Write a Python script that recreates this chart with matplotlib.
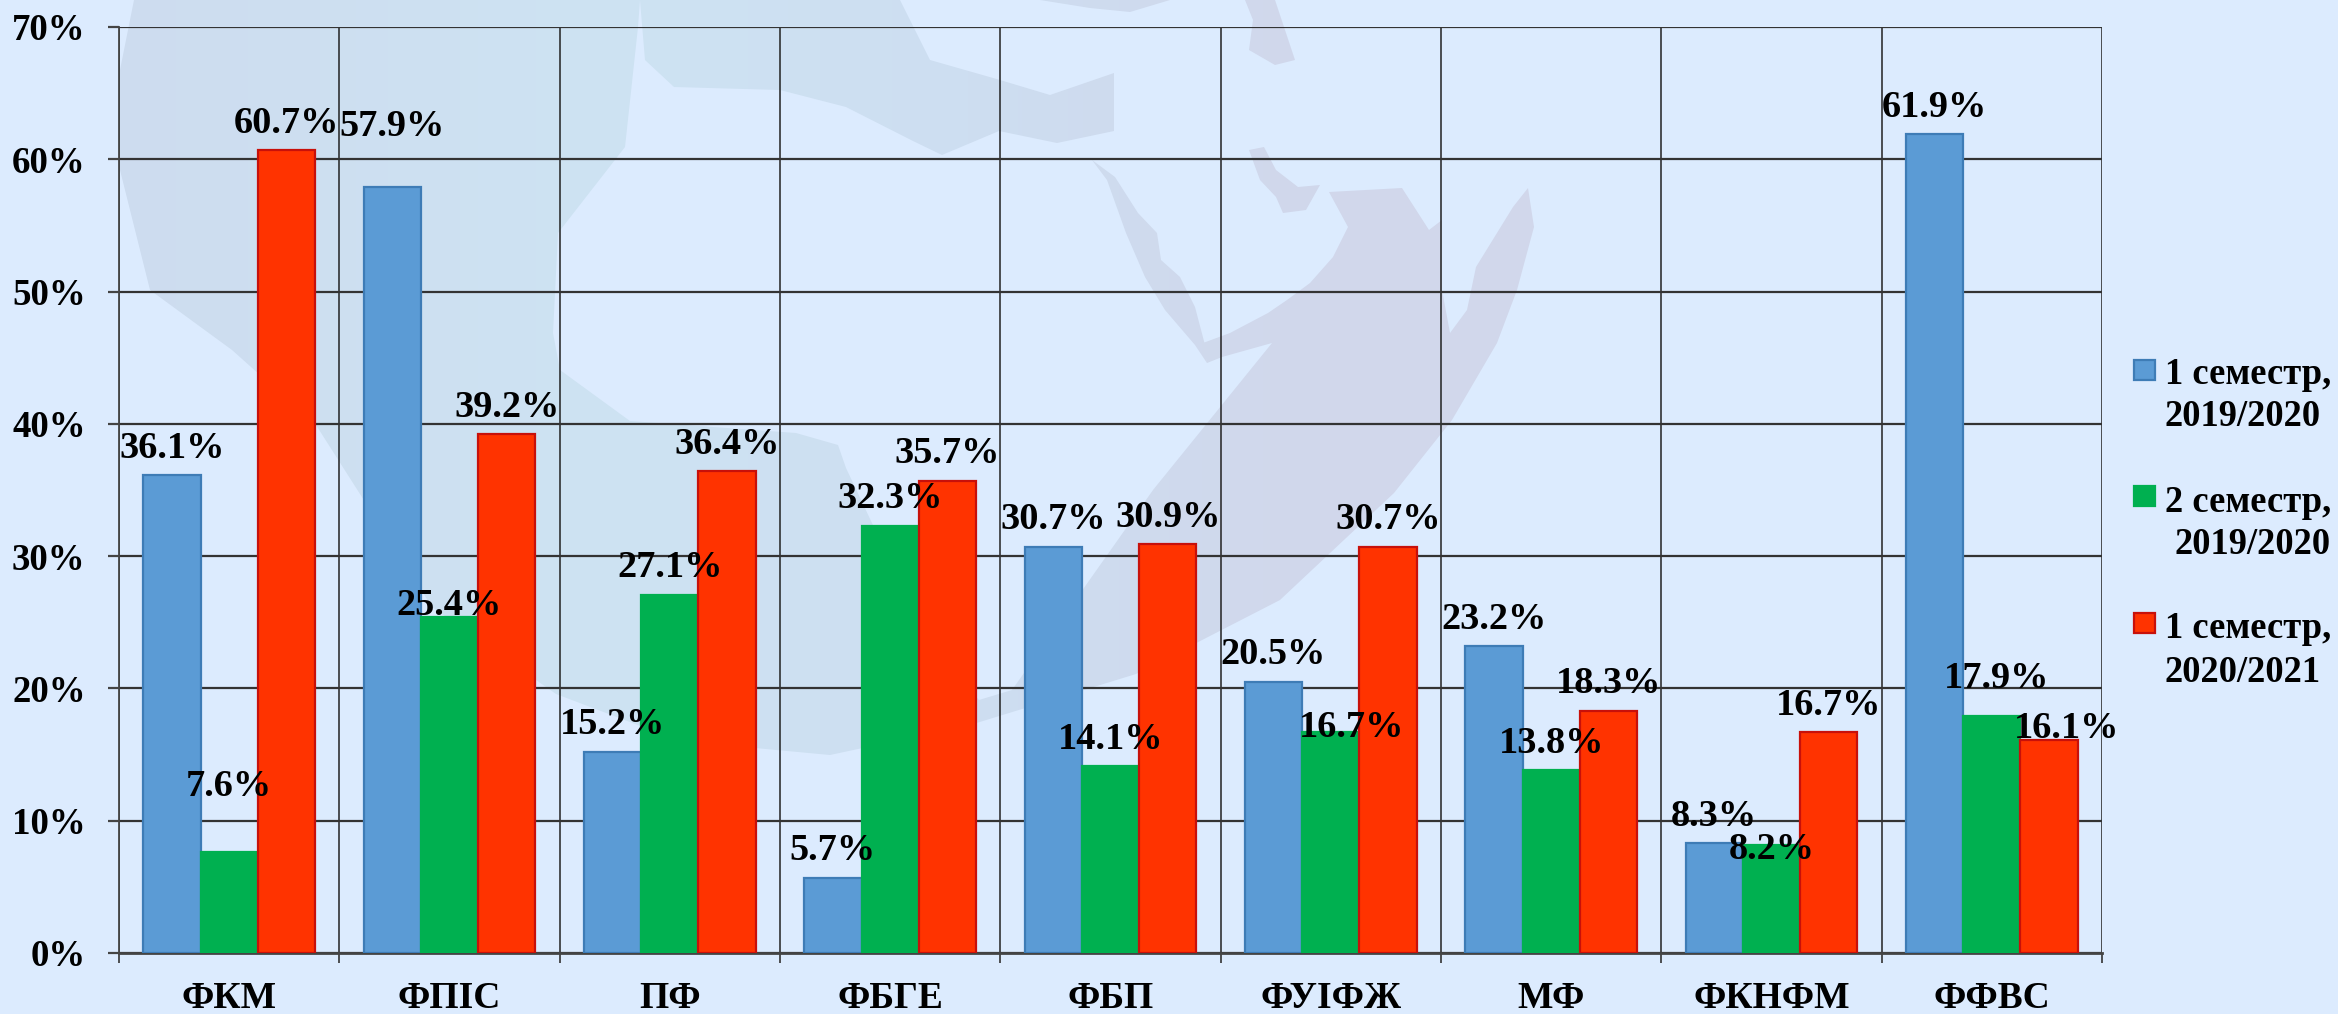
import numpy as np
import matplotlib.pyplot as plt
from matplotlib.patches import Polygon, Rectangle
from matplotlib.colors import LinearSegmentedColormap

# data
faculties = ["ФКМ", "ФПІС", "ПФ", "ФБГЕ", "ФБП", "ФУІФЖ", "МФ", "ФКНФМ", "ФФВС"]
sem1_1920 = [36.1, 57.9, 15.2, 5.7, 30.7, 20.5, 23.2, 8.3, 61.9]
sem2_1920 = [7.6, 25.4, 27.1, 32.3, 14.1, 16.7, 13.8, 8.2, 17.9]
sem1_2021 = [60.7, 39.2, 36.4, 35.7, 30.9, 30.7, 18.3, 16.7, 16.1]
series_names = ["1 семестр,\n2019/2020", "2 семестр,\n2019/2020", "1 семестр,\n2020/2021"]
y_ticks = [0, 10, 20, 30, 40, 50, 60, 70]

W, H = 2338, 1014
BG = "#DCEBFE"
SERIF = ["Liberation Serif", "DejaVu Serif"]
FS_LABEL = 27.6
FS_TICK = 26.6
FS_CAT = 27
FS_LEG = 26.3
plt.rcParams["font.family"] = SERIF
plt.rcParams["font.weight"] = "bold"

fig = plt.figure(figsize=(W / 100, H / 100), dpi=100, facecolor=BG)

# background layer in pixel coordinates: the faint globe
bg = fig.add_axes([0, 0, 1, 1], zorder=0)
bg.set_xlim(0, W)
bg.set_ylim(H, 0)
bg.axis("off")

sea = [(134, 0), (120, 70), (120, 170), (150, 290), (232, 350), (316, 425), (432, 607),
       (556, 694), (680, 741), (830, 755), (970, 725), (1136, 674), (1280, 600), (1394, 493),
       (1452, 420), (1497, 343), (1517, 290), (1534, 227), (1528, 188), (1513, 207),
       (1476, 267), (1467, 310), (1450, 333), (1442, 290), (1442, 220), (1429, 230),
       (1402, 188), (1329, 192), (1348, 227), (1333, 257), (1310, 283), (1287, 300),
       (1268, 313), (1230, 333), (1203, 343), (1207, 363), (1222, 357), (1272, 343),
       (1153, 490), (1012, 690), (979, 700), (925, 640), (880, 540), (846, 468), (838, 445),
       (796, 433), (630, 421), (560, 370), (553, 333), (558, 233), (625, 147), (638, 27),
       (640, 0)]
med = [(640, 0), (900, 0), (930, 60), (1000, 80), (1050, 95), (1114, 73), (1114, 131),
       (1057, 143), (999, 131), (942, 155), (913, 141), (846, 107), (780, 90), (674, 87),
       (645, 60)]
red_sea = [(1092, 160), (1115, 177), (1138, 213), (1157, 233), (1161, 260), (1180, 277),
           (1195, 307), (1205, 345), (1207, 363), (1195, 345), (1165, 310), (1145, 277),
           (1126, 233), (1107, 180)]
gulf = [(1249, 150), (1264, 147), (1276, 170), (1298, 187), (1320, 185), (1306, 210),
        (1283, 213), (1276, 197), (1260, 180)]
caspian = [(1245, 0), (1275, 0), (1295, 60), (1275, 65), (1249, 50), (1253, 20)]
black_sea = [(1040, 0), (1170, 0), (1130, 12), (1090, 8)]

cmap = LinearSegmentedColormap.from_list(
    "globe", [(0, "#CDDCEF"), (0.35, "#CDE3F3"), (0.6, "#CDDEF1"), (0.85, "#D1D7EB"), (1, "#D1D7EB")])
grad = np.linspace(0, 1, 400).reshape(1, -1)
for shape in [sea, med, red_sea, gulf, caspian, black_sea]:
    poly = Polygon(shape, closed=True, facecolor="none", edgecolor="none", transform=bg.transData)
    bg.add_patch(poly)
    im = bg.imshow(grad, extent=(100, 1540, H, 0), cmap=cmap, aspect="auto", zorder=1)
    im.set_clip_path(poly)
bg.set_xlim(0, W)
bg.set_ylim(H, 0)

# main chart
left, right, top, bottom = 119, 2102, 27, 953
ax = fig.add_axes([left / W, 1 - bottom / H, (right - left) / W, (bottom - top) / H], zorder=1)
ax.patch.set_visible(False)

x = np.arange(len(faculties)) + 0.5
w = 0.26
colors = ["#5B9BD5", "#00B050", "#FF3300"]
edges = ["#3E7CB6", "#00B050", "#C8100A"]
series = [sem1_1920, sem2_1920, sem1_2021]

for i, vals in enumerate(series):
    ax.bar(x + (i - 1) * w, vals, w, color=colors[i], edgecolor=edges[i], linewidth=1.6, zorder=3)

ax.set_xlim(0, len(faculties))
ax.set_ylim(0, 70)
ax.set_yticks(y_ticks)
ax.set_yticklabels([f"{v}%" for v in y_ticks], fontsize=FS_TICK, fontweight="bold")
ax.set_xticks(np.arange(len(faculties) + 1))
ax.set_xticklabels([])
ax.set_xticks(x, minor=True)
ax.set_xticklabels(faculties, minor=True, fontsize=FS_CAT, fontweight="bold")
ax.tick_params(axis="x", which="minor", length=0, pad=20)
ax.tick_params(axis="x", which="major", length=7.5, width=1.2, color="#333333")
ax.tick_params(axis="y", length=8, width=1.6, color="#444444", pad=16)
ax.grid(True, axis="y", color="#333333", linewidth=1.6, zorder=1)
ax.grid(True, axis="x", which="major", color="#222222", linewidth=1.1, zorder=1)
ax.set_axisbelow(True)
for side in ["top", "right"]:
    ax.spines[side].set_visible(False)
ax.spines["left"].set_color("#444444")
ax.spines["left"].set_linewidth(1.3)
ax.spines["bottom"].set_color("#444444")
ax.spines["bottom"].set_linewidth(2)

# label offsets in px, (series, faculty), where the label is not in the usual place above the bar
default_dy = 31
dy_special = {(1, 1): 15, (1, 0): 70, (0, 1): 65, (1, 5): 9, (1, 7): -1, (1, 8): 42, (2, 8): 16}
dx_special = {(1, 5): 21, (2, 8): 18, (1, 8): 5}
for i, vals in enumerate(series):
    for j, v in enumerate(vals):
        dy = dy_special.get((i, j), default_dy)
        dx = dx_special.get((i, j), 0)
        ax.annotate(f"{v}%", (x[j] + (i - 1) * w, v), xytext=(dx * 0.72, dy * 0.72),
                    textcoords="offset points", ha="center", va="center_baseline",
                    fontsize=FS_LABEL, fontweight="bold", color="black", zorder=5)

# legend, first line level with the swatch as in the reference
swatch_y = [360, 486, 613]
line_y = [370, 498, 625]
for i, name in enumerate(series_names):
    bg.add_patch(Rectangle((2134, swatch_y[i]), 21, 20, facecolor=colors[i], edgecolor=edges[i],
                           linewidth=1.6, zorder=4))
    first, second = name.split("\n")
    bg.text(2331, line_y[i], first, ha="right", va="center_baseline", fontsize=FS_LEG, fontweight="bold")
    second_x = 2331 if i == 1 else 2321
    bg.text(second_x, line_y[i] + 43, second, ha="right", va="center_baseline", fontsize=FS_LEG, fontweight="bold")

fig.savefig("out.png", dpi=100, facecolor=BG)
